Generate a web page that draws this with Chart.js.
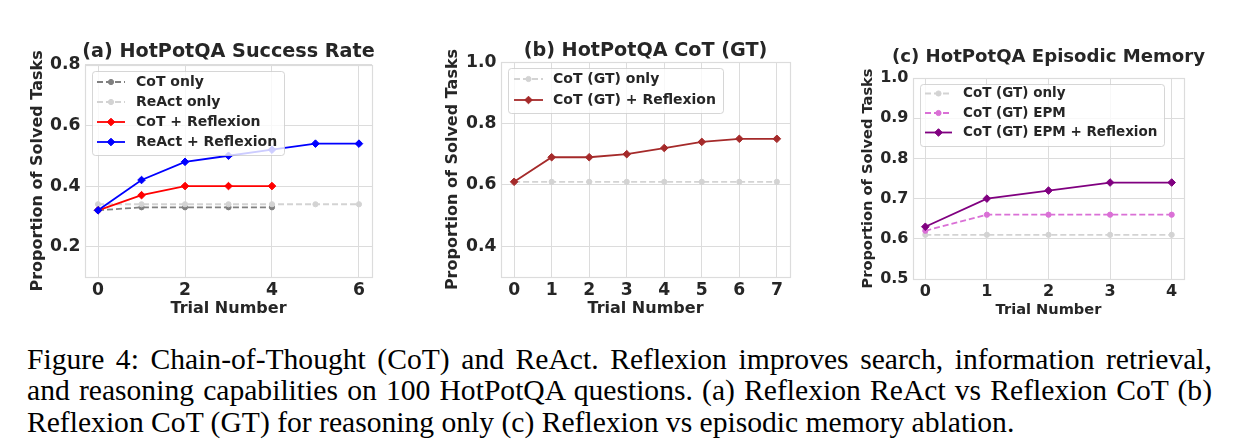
<!DOCTYPE html>
<html>
<head>
<meta charset="utf-8">
<script src="https://cdn.jsdelivr.net/npm/chart.js@4.4.1/dist/chart.umd.min.js"></script>
<style>
    body { margin: 0; background: #fff; width: 1236px; height: 444px; overflow: hidden; position: relative; }
    .panel { position: absolute; top: 30px; height: 300px; }
    .caption { position: absolute; left: 27px; top: 343.5px; width: 1185px; font-family: 'Liberation Serif', 'Times New Roman', serif; font-size: 29.6px; line-height: 31.7px; color: #000; }
    .caption .j { text-align: justify; text-align-last: justify; }
</style>
</head>
<body>
<div class="panel" style="left:0px"><canvas id="chartA" width="457" height="300"></canvas></div>
<div class="panel" style="left:420px"><canvas id="chartB" width="451" height="300"></canvas></div>
<div class="panel" style="left:830px"><canvas id="chartC" width="437" height="300"></canvas></div>
<div class="caption">
    <div class="j">Figure 4: Chain-of-Thought (CoT) and ReAct. Reflexion improves search, information retrieval,</div>
    <div class="j">and reasoning capabilities on 100 HotPotQA questions. (a) Reflexion ReAct vs Reflexion CoT (b)</div>
    <div>Reflexion CoT (GT) for reasoning only (c) Reflexion vs episodic memory ablation.</div>
</div>
<script>
// (a) HotPotQA Success Rate
const trialsA = [0, 1, 2, 3, 4, 5, 6];
const cotOnlyA = [0.32, 0.33, 0.33, 0.33, 0.33];
const reactOnlyA = [0.34, 0.34, 0.34, 0.34, 0.34, 0.34, 0.34];
const cotReflexionA = [0.32, 0.37, 0.40, 0.40, 0.40];
const reactReflexionA = [0.32, 0.42, 0.48, 0.50, 0.52, 0.54, 0.54];
const xTicksA = [0, 2, 4, 6];
const yTicksA = [0.2, 0.4, 0.6, 0.8];

// (b) HotPotQA CoT (GT)
const trialsB = [0, 1, 2, 3, 4, 5, 6, 7];
const cotGtOnlyB = [0.61, 0.61, 0.61, 0.61, 0.61, 0.61, 0.61, 0.61];
const cotGtReflexionB = [0.61, 0.69, 0.69, 0.70, 0.72, 0.74, 0.75, 0.75];
const xTicksB = [0, 1, 2, 3, 4, 5, 6, 7];
const yTicksB = [0.4, 0.6, 0.8, 1.0];

// (c) HotPotQA Episodic Memory
const trialsC = [0, 1, 2, 3, 4];
const cotGtOnlyC = [0.61, 0.61, 0.61, 0.61, 0.61];
const cotGtEpmC = [0.62, 0.66, 0.66, 0.66, 0.66];
const cotGtEpmReflexionC = [0.63, 0.70, 0.72, 0.74, 0.74];
const xTicksC = [0, 1, 2, 3, 4];
const yTicksC = [0.5, 0.6, 0.7, 0.8, 0.9, 1.0];

const TEXT = '#262626';
const GRID = '#dcdcdc';

Chart.defaults.font.family = '"DejaVu Sans", sans-serif';
Chart.defaults.font.weight = 'bold';
Chart.defaults.color = TEXT;

function series(label, xs, ys, color, dashed, marker) {
    return {
        label: label,
        data: ys.map((v, i) => ({ x: xs[i], y: v })),
        borderColor: color,
        backgroundColor: color,
        pointBackgroundColor: color,
        pointBorderColor: color,
        borderWidth: 1.8,
        borderDash: dashed ? [6, 3] : [],
        pointStyle: marker === 'D' ? 'rectRot' : 'circle',
        pointRadius: marker === 'D' ? 3.8 : 2.6,
        pointBorderWidth: 1,
        tension: 0
    };
}

// outer frame of the axes (top/right spines included)
const framePlugin = {
    id: 'frame',
    beforeDatasetsDraw(chart) {
        const { ctx, chartArea: a } = chart;
        ctx.save();
        ctx.strokeStyle = GRID;
        ctx.lineWidth = 1.2;
        ctx.strokeRect(Math.round(a.left) + 0.5, Math.round(a.top) + 0.5, Math.round(a.right - a.left), Math.round(a.bottom - a.top));
        ctx.restore();
    }
};

// matplotlib-like legend box in the upper left corner
const boxLegend = {
    id: 'boxLegend',
    afterDatasetsDraw(chart, args, opts) {
        const { ctx, chartArea } = chart;
        const items = chart.data.datasets;
        ctx.save();
        ctx.font = `bold ${opts.size}px "DejaVu Sans"`;
        const textW = Math.max(...items.map(d => ctx.measureText(d.label).width));
        const left = Math.round(chartArea.left + 7);
        const top = Math.round(chartArea.top + 6);
        const w = Math.round(opts.textX + textW + 7);
        const h = Math.round(opts.firstRow + (items.length - 1) * opts.rowH + opts.bottomPad);

        ctx.beginPath();
        ctx.roundRect(left + 0.5, top + 0.5, w, h, 3);
        ctx.fillStyle = 'rgba(255,255,255,0.8)';
        ctx.fill();
        ctx.strokeStyle = 'rgba(204,204,204,0.8)';
        ctx.lineWidth = 1;
        ctx.stroke();

        items.forEach((d, i) => {
            const y = top + opts.firstRow + i * opts.rowH;
            const x0 = left + opts.handleStart;
            const x1 = x0 + opts.handle;
            ctx.setLineDash(d.borderDash);
            ctx.strokeStyle = d.borderColor;
            ctx.lineWidth = d.borderWidth;
            ctx.beginPath();
            ctx.moveTo(x0, y);
            ctx.lineTo(x1, y);
            ctx.stroke();
            ctx.setLineDash([]);

            const cx = (x0 + x1) / 2;
            const r = d.pointRadius;
            ctx.fillStyle = d.borderColor;
            ctx.lineWidth = 1;
            ctx.beginPath();
            if (d.pointStyle === 'rectRot') {
                ctx.moveTo(cx - r, y);
                ctx.lineTo(cx, y - r);
                ctx.lineTo(cx + r, y);
                ctx.lineTo(cx, y + r);
                ctx.closePath();
            } else {
                ctx.arc(cx, y, r, 0, Math.PI * 2);
            }
            ctx.fill();
            ctx.stroke();

            ctx.fillStyle = TEXT;
            ctx.textBaseline = 'middle';
            ctx.textAlign = 'left';
            ctx.fillText(d.label, left + opts.textX, y);
        });
        ctx.restore();
    }
};

// the canvas centre lines up with the plot centre, so the full-width title sits over the plot;
// an empty right-hand axis keeps the space on the right without shrinking the title box
function makeChart(id, datasets, p) {
    const ctx = document.getElementById(id).getContext('2d');
    return new Chart(ctx, {
        type: 'line',
        data: { datasets: datasets.map((d, i) => Object.assign(d, { order: -i })) },
        options: {
            responsive: false,
            animation: false,
            devicePixelRatio: 1,
            layout: { padding: 0 },
            plugins: {
                legend: { display: false },
                tooltip: { enabled: false },
                title: {
                    display: true,
                    text: p.title,
                    color: TEXT,
                    font: { size: p.titleSize, weight: 'bold' },
                    padding: { top: p.titleTop, bottom: p.titleBottom }
                },
                boxLegend: p.legend
            },
            scales: {
                x: {
                    type: 'linear',
                    min: p.xMin,
                    max: p.xMax,
                    afterBuildTicks: s => { s.ticks = p.xTicks.map(v => ({ value: v })); },
                    afterFit: s => { s.height = p.xH; },
                    grid: { color: GRID, lineWidth: 1, drawTicks: false },
                    border: { display: false },
                    ticks: { color: TEXT, font: { size: p.tickSize, weight: 'bold' }, padding: p.xTickPad, maxRotation: 0, callback: v => String(v) },
                    title: { display: true, text: 'Trial Number', color: TEXT, font: { size: p.axisSize, weight: 'bold' }, padding: { top: 0, bottom: p.xTitlePad } }
                },
                y: {
                    min: p.yMin,
                    max: p.yMax,
                    afterBuildTicks: s => { s.ticks = p.yTicks.map(v => ({ value: v })); },
                    afterFit: s => { s.width = p.yW; },
                    grid: { color: GRID, lineWidth: 1, drawTicks: false },
                    border: { display: false },
                    ticks: { color: TEXT, font: { size: p.tickSize, weight: 'bold' }, padding: 4.5, callback: v => v.toFixed(1) },
                    title: { display: true, text: 'Proportion of Solved Tasks', color: TEXT, font: { size: p.axisSize, weight: 'bold' }, padding: { top: p.yTitlePad, bottom: 0 } }
                },
                spacer: {
                    type: 'linear',
                    axis: 'y',
                    position: 'right',
                    min: 0,
                    max: 1,
                    afterFit: s => { s.width = p.padRight; },
                    grid: { display: false },
                    border: { display: false },
                    ticks: { display: false }
                }
            }
        },
        plugins: [framePlugin, boxLegend]
    });
}

makeChart('chartA', [
    series('CoT only', trialsA, cotOnlyA, '#808080', true, 'o'),
    series('ReAct only', trialsA, reactOnlyA, '#d3d3d3', true, 'o'),
    series('CoT + Reflexion', trialsA, cotReflexionA, '#ff0000', false, 'D'),
    series('ReAct + Reflexion', trialsA, reactReflexionA, '#0000ff', false, 'D')
], {
    title: '(a) HotPotQA Success Rate', titleSize: 19.2, titleTop: 10.4, titleBottom: 1.4,
    padRight: 85, yW: 85, xH: 53, tickSize: 17.2, axisSize: 16, yTitlePad: 28.4, xTitlePad: 11.4, xTickPad: 3,
    xMin: -0.3, xMax: 6.3, yMin: 0.1, yMax: 0.8, xTicks: xTicksA, yTicks: yTicksA,
    legend: { size: 14, rowH: 20, firstRow: 11, bottomPad: 13, handleStart: 5, handle: 28, textX: 44 }
});

makeChart('chartB', [
    series('CoT (GT) only', trialsB, cotGtOnlyB, '#d3d3d3', true, 'o'),
    series('CoT (GT) + Reflexion', trialsB, cotGtReflexionB, '#a52a2a', false, 'D')
], {
    title: '(b) HotPotQA CoT (GT)', titleSize: 19.2, titleTop: 9, titleBottom: 0,
    padRight: 81, yW: 81, xH: 53, tickSize: 17.2, axisSize: 16, yTitlePad: 23.4, xTitlePad: 11.4, xTickPad: 3,
    xMin: -0.35, xMax: 7.35, yMin: 0.3, yMax: 1.0, xTicks: xTicksB, yTicks: yTicksB,
    legend: { size: 14, rowH: 21, firstRow: 11, bottomPad: 13, handleStart: 6, handle: 29, textX: 45 }
});

makeChart('chartC', [
    series('CoT (GT) only', trialsC, cotGtOnlyC, '#d3d3d3', true, 'o'),
    series('CoT (GT) EPM', trialsC, cotGtEpmC, '#da70d6', true, 'o'),
    series('CoT (GT) EPM + Reflexion', trialsC, cotGtEpmReflexionC, '#800080', false, 'D')
], {
    title: '(c) HotPotQA Episodic Memory', titleSize: 18.1, titleTop: 16.1, titleBottom: 10.2,
    padRight: 83, yW: 83, xH: 51, tickSize: 16, axisSize: 14.6, yTitlePad: 29, xTitlePad: 10.75, xTickPad: 3,
    xMin: -0.2, xMax: 4.2, yMin: 0.5, yMax: 1.0, xTicks: xTicksC, yTicks: yTicksC,
    legend: { size: 13.5, rowH: 19.5, firstRow: 9.5, bottomPad: 13, handleStart: 5, handle: 27, textX: 43 }
});
</script>
</body>
</html>
